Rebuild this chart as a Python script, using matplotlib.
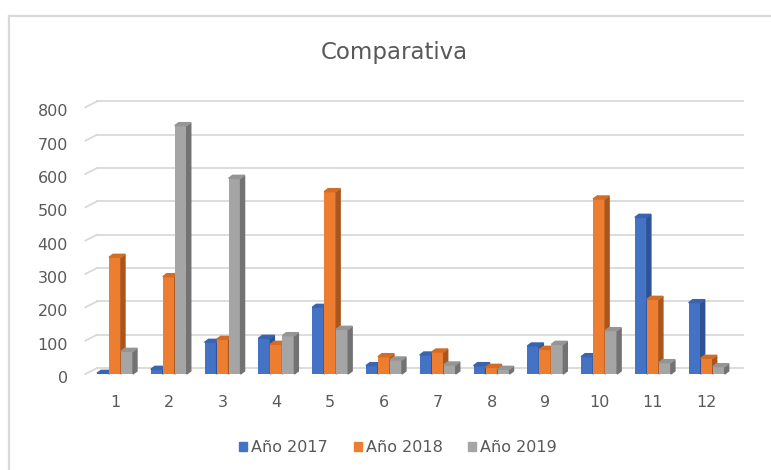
import matplotlib.pyplot as plt
from matplotlib.patches import Polygon, Patch
from matplotlib.lines import Line2D
from matplotlib.transforms import ScaledTranslation
import numpy as np

months = [str(i) for i in range(1, 13)]
anio_2017 = [2, 14, 95, 107, 200, 25, 57, 25, 84, 52, 470, 214]
anio_2018 = [350, 292, 104, 89, 547, 52, 66, 20, 74, 525, 224, 47]
anio_2019 = [68, 745, 587, 115, 134, 42, 27, 14, 89, 130, 34, 22]
series_names = ['Año 2017', 'Año 2018', 'Año 2019']
yticks = list(range(0, 900, 100))

front = ['#4472C4', '#ED7D31', '#A5A5A5']
side = ['#2E5394', '#A8561E', '#727272']
top = ['#3B64B0', '#D26D28', '#959595']

text_col = '#595959'
grid_col = '#D9D9D9'

fig = plt.figure(figsize=(7.71, 4.70), dpi=100)
ax = fig.add_axes([88.1 / 771, (470 - 374) / 470, 645.5 / 771, 266.7 / 470])

x = np.arange(1, 13)
w = 0.223
# depth of the fake 3d in data units (about 4 px x 3 px)
ddx = 4 / 53.8
ddy = 9
# back wall offset
wdx = 9 / 53.8
wdy = 18

# back wall grid
for v in yticks:
    ax.add_line(Line2D([0.5 + wdx, 12.5 + wdx], [v + wdy, v + wdy], color=grid_col, lw=1.3, clip_on=False, zorder=0))
    ax.add_line(Line2D([0.45, 0.5 + wdx], [v, v + wdy], color=grid_col, lw=1.3, clip_on=False, zorder=0))

data = [anio_2017, anio_2018, anio_2019]
for i in range(12):
    for s in range(3):
        val = data[s][i]
        x0 = x[i] + (s - 1) * w - w / 2
        x1 = x0 + w
        z = 2 + i * 3 + s
        ax.bar(x0, val, width=w, align='edge', color=front[s], zorder=z)
        ax.add_patch(Polygon([[x1, 0], [x1 + ddx, ddy], [x1 + ddx, val + ddy], [x1, val]],
                             closed=True, color=side[s], zorder=z, clip_on=False))
        ax.add_patch(Polygon([[x0, val], [x0 + ddx, val + ddy], [x1 + ddx, val + ddy], [x1, val]],
                             closed=True, color=top[s], zorder=z, clip_on=False))

ax.set_xlim(0.5, 12.5)
ax.set_ylim(0, 800)
ax.set_xticks(x)
ax.set_xticklabels(months)
ax.set_yticks(yticks)
ax.tick_params(axis='both', length=0, colors=text_col, labelsize=11.5)
ax.tick_params(axis='y', pad=14.5)
ax.tick_params(axis='x', pad=15)
for lab in ax.get_yticklabels():
    lab.set_transform(lab.get_transform() + ScaledTranslation(0, -3 / 100, fig.dpi_scale_trans))
for sp in ax.spines.values():
    sp.set_visible(False)
ax.patch.set_alpha(0)

fig.text(394 / 771, 1 - 53 / 470, 'Comparativa', ha='center', va='center', fontsize=16.5, color=text_col)

handles = [Patch(color=c) for c in front]
fig.legend(handles, series_names, loc='center', bbox_to_anchor=(398 / 771, 1 - 448 / 470), ncol=3,
           frameon=False, fontsize=11.5, handlelength=0.5, handleheight=0.5, handletextpad=0.25,
           columnspacing=1.6, labelcolor=text_col)

# chart frame (only top and left edges are inside the picture)
fig.add_artist(Line2D([9 / 771, 9 / 771], [0, 1 - 16 / 470], transform=fig.transFigure, color=grid_col, lw=1.6))
fig.add_artist(Line2D([9 / 771, 1], [1 - 16 / 470, 1 - 16 / 470], transform=fig.transFigure, color=grid_col, lw=1.6))

fig.savefig('out.png', dpi=100)
